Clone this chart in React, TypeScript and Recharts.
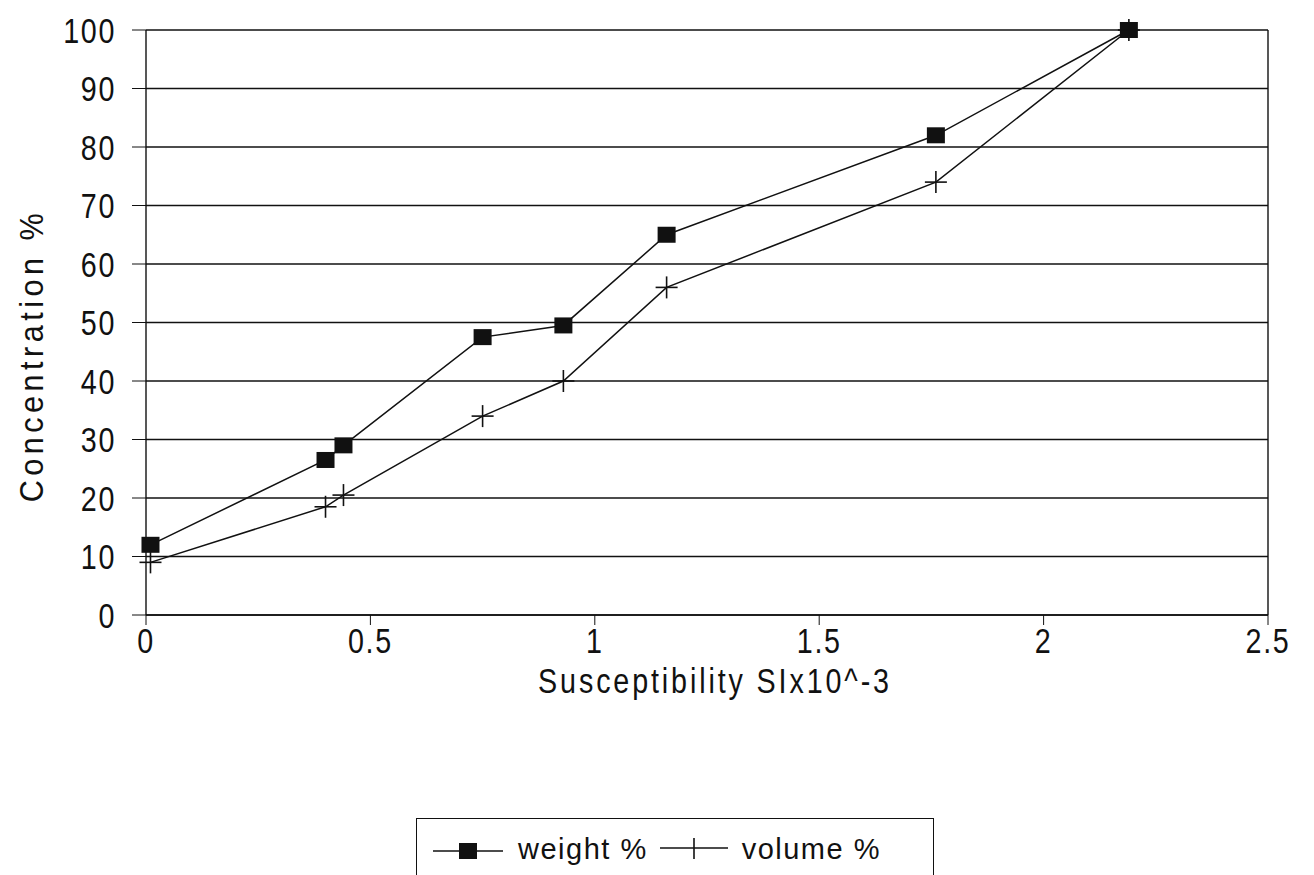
import React from "react";
import {
  LineChart,
  Line,
  XAxis,
  YAxis,
  CartesianGrid,
  ReferenceLine,
  Legend,
} from "recharts";

// susceptibility (SI x 10^-3) and concentrations
const susceptibility = [0.01, 0.4, 0.44, 0.75, 0.93, 1.16, 1.76, 2.19];
const weightPct = [12, 26.5, 29, 47.5, 49.5, 65, 82, 100];
const volumePct = [9, 18.5, 20.5, 34, 40, 56, 74, 100];

const xTicks = [0, 0.5, 1, 1.5, 2, 2.5];
const yTicks = [0, 10, 20, 30, 40, 50, 60, 70, 80, 90, 100];

const rows = susceptibility.map((x, i) => ({
  x,
  weight: weightPct[i],
  volume: volumePct[i],
}));

const FONT = "'Liberation Sans', Arial, sans-serif";
const INK = "#111";
const NARROW = 0.82; // plotter font is tall and narrow

const SquareDot = (props: any) => {
  const { cx, cy } = props;
  if (cx == null || cy == null) return null;
  return <rect x={cx - 9} y={cy - 8} width={18} height={16} fill={INK} />;
};

const PlusDot = (props: any) => {
  const { cx, cy } = props;
  if (cx == null || cy == null) return null;
  return (
    <g stroke={INK} strokeWidth={1.6}>
      <line x1={cx - 11} y1={cy} x2={cx + 11} y2={cy} />
      <line x1={cx} y1={cy - 11} x2={cx} y2={cy + 11} />
    </g>
  );
};

const YTick = ({ x, y, payload }: any) => (
  <g transform={`translate(${x},${y})`}>
    <text
      transform={`scale(${NARROW},1)`}
      textAnchor="end"
      dy="0.36em"
      fontSize={35}
      fontFamily={FONT}
      fill={INK}
      letterSpacing={2}
    >
      {payload.value}
    </text>
  </g>
);

const XTick = ({ x, y, payload }: any) => (
  <g transform={`translate(${x},${y})`}>
    <text
      transform={`scale(${NARROW},1)`}
      textAnchor="middle"
      dy="0.72em"
      fontSize={35}
      fontFamily={FONT}
      fill={INK}
      letterSpacing={2}
    >
      {payload.value}
    </text>
  </g>
);

const XLabel = ({ viewBox }: any) => {
  const cx = viewBox.x + viewBox.width / 2 + 8;
  const cy = viewBox.y + 78;
  return (
    <g transform={`translate(${cx},${cy})`}>
      <text
        transform={`scale(${NARROW},1)`}
        textAnchor="middle"
        fontSize={35}
        fontFamily={FONT}
        fill={INK}
        letterSpacing={3.5}
      >
        Susceptibility SIx10^-3
      </text>
    </g>
  );
};

const YLabel = ({ viewBox }: any) => {
  const cx = viewBox.x - 3;
  const cy = viewBox.y + viewBox.height / 2 + 33;
  return (
    <g transform={`translate(${cx},${cy}) rotate(-90)`}>
      <text
        transform={`scale(0.9,1)`}
        textAnchor="middle"
        fontSize={34}
        fontFamily={FONT}
        fill={INK}
        letterSpacing={5}
      >
        Concentration %
      </text>
    </g>
  );
};

const LegendBox = () => (
  <div
    style={{
      width: 518,
      height: 80,
      border: "1.5px solid #111",
      boxSizing: "border-box",
      fontFamily: FONT,
      fontSize: 29,
      letterSpacing: 1.5,
      color: INK,
      display: "flex",
      alignItems: "flex-start",
      paddingTop: 14,
      paddingLeft: 16,
    }}
  >
    <svg width={70} height={36} style={{ marginRight: 15 }}>
      <line x1={0} y1={18} x2={70} y2={18} stroke={INK} strokeWidth={1.6} />
      <rect x={26} y={10} width={18} height={16} fill={INK} />
    </svg>
    <span style={{ marginRight: 12 }}>weight %</span>
    <svg width={68} height={36} style={{ marginRight: 14 }}>
      <line x1={0} y1={15} x2={68} y2={15} stroke={INK} strokeWidth={1.6} />
      <line x1={34} y1={5} x2={34} y2={26} stroke={INK} strokeWidth={1.6} />
    </svg>
    <span>volume %</span>
  </div>
);

export default function App() {
  return (
    <div style={{ position: "absolute", left: 0, top: 0, background: "#fff" }}>
      <LineChart
        width={1314}
        height={875}
        data={rows}
        margin={{ top: 30, right: 46, left: 46, bottom: 200 }}
      >
        <CartesianGrid vertical={false} stroke={INK} strokeWidth={1.4} />
        <XAxis
          type="number"
          dataKey="x"
          domain={[0, 2.5]}
          ticks={xTicks}
          height={60}
          tickSize={10}
          tickMargin={3}
          stroke={INK}
          axisLine={{ stroke: INK, strokeWidth: 1.4 }}
          tick={<XTick />}
          label={(props: any) => <XLabel {...props} />}
        />
        <YAxis
          type="number"
          domain={[0, 100]}
          ticks={yTicks}
          width={100}
          tickSize={14}
          tickMargin={16}
          interval={0}
          stroke={INK}
          axisLine={{ stroke: INK, strokeWidth: 1.4 }}
          tick={<YTick />}
          label={(props: any) => <YLabel {...props} />}
        />
        <ReferenceLine x={2.5} stroke={INK} strokeWidth={1.4} />
        <Legend
          content={() => <LegendBox />}
          wrapperStyle={{ position: "absolute", left: 416, top: 818, width: 520, height: 0 }}
        />
        <Line
          type="linear"
          dataKey="weight"
          name="weight %"
          stroke={INK}
          strokeWidth={1.5}
          dot={<SquareDot />}
          activeDot={false}
          isAnimationActive={false}
        />
        <Line
          type="linear"
          dataKey="volume"
          name="volume %"
          stroke={INK}
          strokeWidth={1.5}
          dot={<PlusDot />}
          activeDot={false}
          isAnimationActive={false}
        />
      </LineChart>
    </div>
  );
}
